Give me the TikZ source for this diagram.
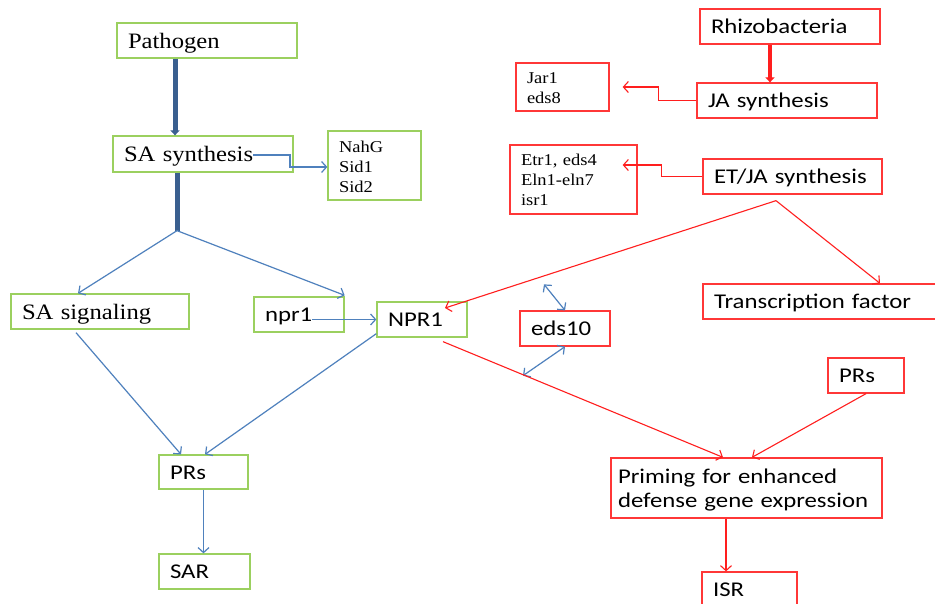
\documentclass[tikz,border=0pt]{standalone}
\usepackage{fontspec}
\setmainfont{Liberation Serif}[FakeStretch=1.12]
\newfontfamily\sansf{Carlito}[FakeStretch=1.18]
\usetikzlibrary{arrows.meta,calc}
\definecolor{gcol}{RGB}{155,208,95}
\definecolor{rcol}{RGB}{255,55,55}
\definecolor{bcol}{RGB}{79,129,189}
\definecolor{dbcol}{RGB}{58,95,143}
\definecolor{racol}{RGB}{255,30,30}
\hyphenpenalty=10000
\exhyphenpenalty=10000
\begin{document}
\begin{tikzpicture}[x=1pt,y=-1pt,
  box/.style={line width=1.3pt, inner xsep=11pt, inner ysep=0pt, align=left, minimum height=35pt, anchor=center},
  gb/.style={box, draw=gcol},
  rb/.style={box, draw=rcol},
  serifbig/.style={font=\fontsize{22}{26}\selectfont, text height=15.6pt, text depth=0pt},
  serifsmall/.style={font=\fontsize{16.5}{20}\selectfont},
  sansbig/.style={font=\sansf\fontsize{21}{24}\selectfont, text height=14.5pt, text depth=0pt},
  barr/.style={draw=bcol, line width=1.2pt, -{Straight Barb[length=5pt,width=11pt]}},
  bdarr/.style={draw=bcol, line width=1.2pt, {Straight Barb[length=5pt,width=11pt]}-{Straight Barb[length=5pt,width=11pt]}},
  rarr/.style={draw=racol, line width=1.1pt, -{Straight Barb[length=5pt,width=11pt]}},
  thickb/.style={draw=dbcol, line width=5pt, -{Triangle[length=5pt,width=9pt]}},
  thickbl/.style={draw=dbcol, line width=5pt},
  thickr/.style={draw=racol, line width=4pt, -{Triangle[length=5pt,width=9pt]}}
]
\useasboundingbox (0,0) rectangle (935,603);
\fill[white] (0,0) rectangle (935,603);
\clip (0,0) rectangle (935,603);

% SA side (green)
\node[gb, serifbig, text width=158pt] (pathogen) at (207,40.5) {Pathogen};
\node[gb, serifbig, text width=158pt, minimum height=36pt] (sasyn) at (203,154) {SA synthesis};
\node[gb, serifsmall, text width=71pt, minimum height=69pt, text height=13pt, text depth=40pt] (nahg) at (374.5,165.5) {NahG\\Sid1\\Sid2};
\node[gb, serifbig, text width=156pt] (sasig) at (100,311.5) {SA signaling};
\node[gb, sansbig, text width=68pt] (npr1s) at (299,314.5) {npr1};
\node[gb, sansbig, text width=68pt] (NPR1) at (422,319.5) {NPR1};
\node[gb, sansbig, text width=67pt, minimum height=34pt] (prsL) at (203.5,472) {PRs};
\node[gb, sansbig, text width=69pt] (sar) at (204.5,571.5) {SAR};

% ISR side (red)
\node[rb, sansbig, text width=158pt] (rhizo) at (790,26.5) {Rhizobacteria};
\node[rb, serifsmall, text width=71pt, minimum height=48pt, text height=12.6pt, text depth=20pt] (jar) at (562.5,87) {Jar1\\eds8};
\node[rb, sansbig, text width=158pt] (jasyn) at (787,100.5) {JA synthesis};
\node[rb, serifsmall, text width=105pt, minimum height=69pt, text height=11pt, text depth=40pt] (etr) at (573.5,179.5) {Etr1, eds4\\Eln1-eln7\\isr1};
\node[rb, sansbig, text width=157pt] (etja) at (792.5,176.5) {ET/JA synthesis};
\node[rb, sansbig, text width=275pt] (tf) at (851.5,301.5) {Transcription factor};
\node[rb, sansbig, text width=68pt] (eds10) at (565,328.5) {eds10};
\node[rb, sansbig, text width=54pt] (prsR) at (866,375.5) {PRs};
\node[rb, sansbig, text width=257pt, inner xsep=7pt, minimum height=60pt, text height=14.4pt, text depth=24pt] (priming) at (746.5,488) {Priming for enhanced\\defense gene expression};
\node[rb, sansbig, text width=73pt] (isr) at (749.5,589.5) {ISR};

% blue connectors
\draw[thickb] ([xshift=-32pt]pathogen.south) -- ([xshift=-28pt]sasyn.north);
\coordinate (br) at ([xshift=-26pt,yshift=-58pt]sasyn.south);
\draw[thickbl] ([xshift=-26pt]sasyn.south) -- (br);
\draw[barr] (br) -- ([xshift=-22pt]sasig.north);
\draw[barr] (br) -- ([yshift=1pt]npr1s.north east);
\draw[barr] ([xshift=50pt,yshift=-1pt]sasyn.center) -- ++(37,0) |- ([yshift=-1.5pt]nahg.west);
\draw[barr] ([xshift=13pt,yshift=-5pt]npr1s.center) -- (NPR1.west);
\draw[barr] ([xshift=-24pt,yshift=-3pt]sasig.south) -- ([xshift=-22.5pt]prsL.north);
\draw[barr] ([yshift=4pt]NPR1.south west) -- ([xshift=1.5pt]prsL.north);
\draw[barr] (prsL.south) -- (prsL.south |- sar.north);
\coordinate (e1) at ([xshift=-21pt,yshift=26pt]eds10.north);
\coordinate (e2) at ([xshift=-42pt,yshift=-29pt]eds10.south);
\draw[bdarr] (e1) -- (eds10.north);
\draw[bdarr] (eds10.south) -- (e2);

% red connectors
\draw[thickr] ([xshift=-20pt]rhizo.south) -- ([xshift=-17pt]jasyn.north);
\draw[rarr] (jasyn.west) -- ++(-38,0) |- ([xshift=13pt,yshift=0pt]jar.east);
\draw[rarr] (etja.west) -- ++(-41,0) |- ([xshift=-15pt,yshift=14.5pt]etr.east);
\coordinate (ap) at ([xshift=-16.5pt,yshift=-6pt]etja.south);
\draw[rarr] (ap) -- ([xshift=23pt,yshift=11.5pt]NPR1.center);
\draw[rarr] (ap) -- ([xshift=28.5pt]tf.north);
\draw[rarr] ([xshift=21pt,yshift=-4pt]NPR1.south) -- ([xshift=-23.5pt]priming.north);
\draw[rarr] (prsR.south) -- ([xshift=5.5pt]priming.north);
\draw[rarr] ([xshift=-20.5pt]priming.south) -- ([xshift=-20.5pt]priming.south |- isr.north);
\end{tikzpicture}
\end{document}
